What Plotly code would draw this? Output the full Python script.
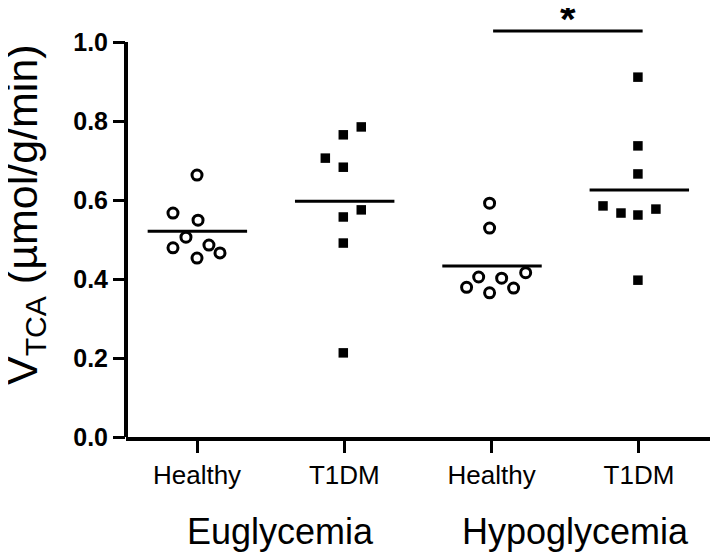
import numpy as np
import plotly.graph_objects as go

# ---- data ----
categories = ["Healthy", "T1DM", "Healthy", "T1DM"]
conditions = ["Euglycemia", "Hypoglycemia"]
eu_healthy = [0.663, 0.567, 0.549, 0.506, 0.479, 0.486, 0.466, 0.453]
eu_t1dm = [0.785, 0.765, 0.706, 0.683, 0.575, 0.557, 0.491, 0.213]
hypo_healthy = [0.592, 0.529, 0.405, 0.402, 0.416, 0.379, 0.365, 0.377]
hypo_t1dm = [0.911, 0.737, 0.666, 0.585, 0.567, 0.562, 0.577, 0.397]
y_ticks = [0.0, 0.2, 0.4, 0.6, 0.8, 1.0]
y_tick_labels = ["0.0", "0.2", "0.4", "0.6", "0.8", "1.0"]
sig_pair = [2, 3]
sig_level = 1.028
sig_label = "*"

# ---- layout helpers (scatter jitter, not data) ----
jitter = [
    [0, -0.163, 0.007, -0.075, -0.163, 0.081, 0.156, 0],
    [0.115, -0.007, -0.129, -0.007, 0.115, -0.007, -0.007, -0.007],
    [-0.014, -0.014, -0.088, 0.068, 0.231, -0.17, -0.014, 0.149],
    [-0.007, -0.007, -0.007, -0.244, -0.122, -0.007, 0.115, -0.007],
]
groups = [eu_healthy, eu_t1dm, hypo_healthy, hypo_t1dm]
open_marker = dict(symbol="circle-open", size=10, color="black", line=dict(width=3, color="black"))
fill_marker = dict(symbol="square", size=9.5, color="black", line=dict(width=0))

FONT = "Arial, Liberation Sans, sans-serif"
fig = go.Figure()

for i, vals in enumerate(groups):
    xs = [i + j for j in jitter[i]]
    fig.add_trace(go.Scatter(
        x=xs, y=vals, mode="markers",
        marker=open_marker if i % 2 == 0 else fill_marker,
        showlegend=False, cliponaxis=False, hoverinfo="y"))
    m = float(np.mean(vals))
    fig.add_trace(go.Scatter(
        x=[i - 0.335, i + 0.34], y=[m, m], mode="lines",
        line=dict(color="black", width=3), showlegend=False, hoverinfo="skip"))

# significance bar
fig.add_trace(go.Scatter(
    x=[sig_pair[0] + 0.01, sig_pair[1] + 0.025], y=[sig_level, sig_level], mode="lines",
    line=dict(color="black", width=3), showlegend=False, hoverinfo="skip"))
fig.add_annotation(x=(sig_pair[0] + sig_pair[1]) / 2 + 0.015, y=sig_level, xref="x", yref="y",
                   text="<b>" + sig_label + "</b>", showarrow=False, yanchor="middle",
                   yshift=12, font=dict(family=FONT, size=40, color="black"))

# y axis line (only from 0 to 1.0)
fig.add_shape(type="line", xref="paper", yref="y", x0=0, x1=0, y0=0, y1=y_ticks[-1],
              line=dict(color="black", width=4))

# condition labels
for k, cond in enumerate(conditions):
    fig.add_annotation(x=2 * k + 0.5, y=0, xref="x", yref="paper", text=cond,
                       showarrow=False, yanchor="top", yshift=-72, xshift=10,
                       font=dict(family=FONT, size=36, color="black"))

# y axis title
fig.add_annotation(x=0, y=0.52, xref="paper", yref="paper",
                   text="V<sub>TCA</sub> (\u00b5mol/g/min)", showarrow=False,
                   textangle=-90, xanchor="center", yanchor="middle", xshift=-101,
                   font=dict(family=FONT, size=43, color="black"))

# page body has an 8px margin: size the figure so it fills the 718x553 window
fig.update_layout(
    width=710, height=545,
    margin=dict(l=118, r=2, t=2, b=116),
    paper_bgcolor="white", plot_bgcolor="white",
    font=dict(family=FONT, color="black"),
    xaxis=dict(range=[-0.482, 3.523], tickvals=[0, 1, 2, 3], ticktext=categories,
               showgrid=False, zeroline=False, showline=True, linecolor="black", linewidth=4,
               ticks="outside", ticklen=12, tickwidth=3, tickcolor="black",
               tickfont=dict(family=FONT, size=26, color="black"), automargin=False),
    yaxis=dict(range=[0, 1.081], tickvals=y_ticks, ticktext=["<b>%s</b>" % t for t in y_tick_labels],
               showgrid=False, zeroline=False, showline=False,
               ticks="outside", ticklen=12, tickwidth=3, tickcolor="black",
               tickfont=dict(family=FONT, size=25, color="black"), automargin=False),
)

fig.write_html("out.html")
